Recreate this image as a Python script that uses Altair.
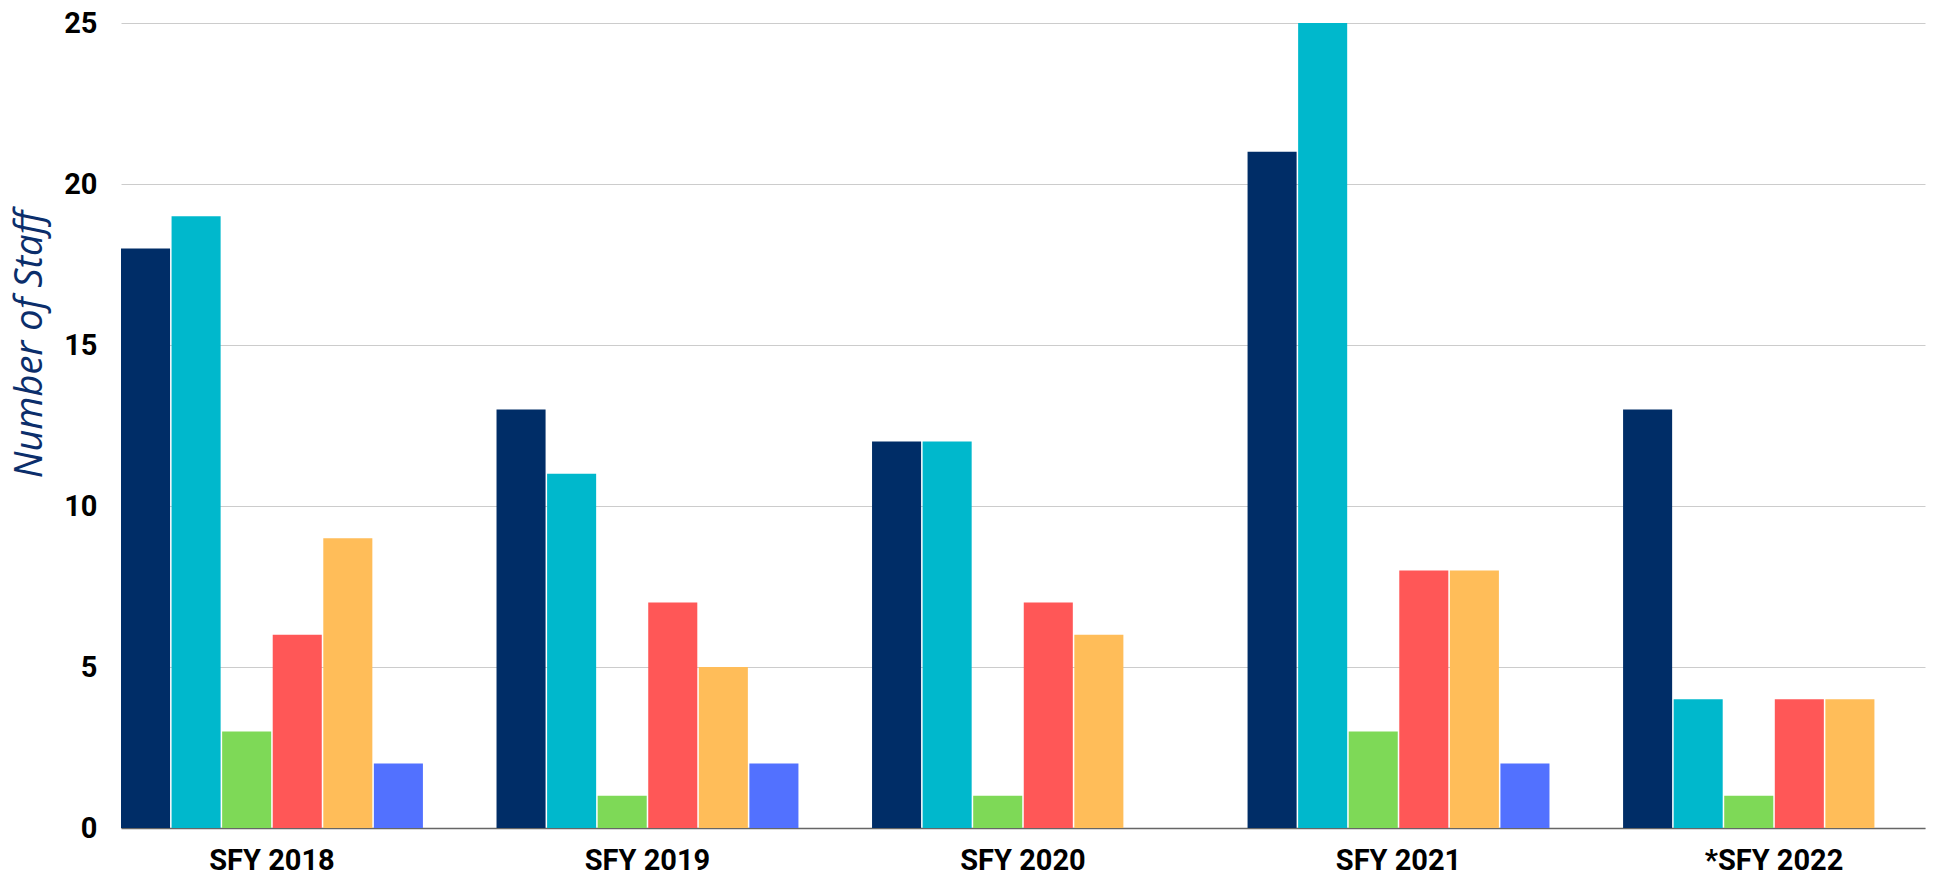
import altair as alt
import pandas as pd

years = ["SFY 2018", "SFY 2019", "SFY 2020", "SFY 2021", "*SFY 2022"]
series = ["Series 1", "Series 2", "Series 3", "Series 4", "Series 5", "Series 6"]
colors = ["#002D67", "#00B8CC", "#7ED957", "#FF5757", "#FFBD59", "#5271FF"]
values = [
    [18, 19, 3, 6, 9, 2],
    [13, 11, 1, 7, 5, 2],
    [12, 12, 1, 7, 6, 0],
    [21, 25, 3, 8, 8, 2],
    [13, 4, 1, 4, 4, 0],
]
y_ticks = [0, 5, 10, 15, 20, 25]

rows = []
for yi, yr in enumerate(years):
    for si, s in enumerate(series):
        rows.append({"year": yr, "series": s, "value": values[yi][si]})
df = pd.DataFrame(rows)

chart = alt.Chart(df).mark_bar().encode(
    x=alt.X("year:N", sort=years,
            scale=alt.Scale(paddingInner=0.196, paddingOuter=0),
            axis=alt.Axis(title=None, labelAngle=0, labelFont="Roboto", labelFontWeight="bold",
                          labelFontSize=29, labelColor="#000000", ticks=False,
                          domainColor="#666666", domainWidth=1.5, labelPadding=18)),
    xOffset=alt.XOffset("series:N", sort=series, scale=alt.Scale(paddingInner=0.03, paddingOuter=0)),
    y=alt.Y("value:Q", scale=alt.Scale(domain=[0, 25], nice=False),
            axis=alt.Axis(title="Number of Staff", values=y_ticks, ticks=False, domain=False,
                          labelFont="Roboto", labelFontWeight="bold", labelFontSize=29,
                          labelColor="#000000", labelPadding=24,
                          gridColor="#cccccc", gridWidth=1,
                          titleFont="Open Sans", titleFontStyle="italic", titleFontWeight="normal",
                          titleFontSize=38, titleColor="#0B2E6B",
                          titleX=-91, titleY=321, titleBaseline="middle", titleAngle=-90)),
    color=alt.Color("series:N", sort=series, scale=alt.Scale(domain=series, range=colors), legend=None),
).properties(
    width=1804, height=805,
    autosize=alt.AutoSizeParams(type="none"),
    padding={"left": 113, "top": 15, "right": 5, "bottom": 50},
).configure_view(stroke=None)

chart.save("out.html", embed_options={"renderer": "svg", "actions": False})
